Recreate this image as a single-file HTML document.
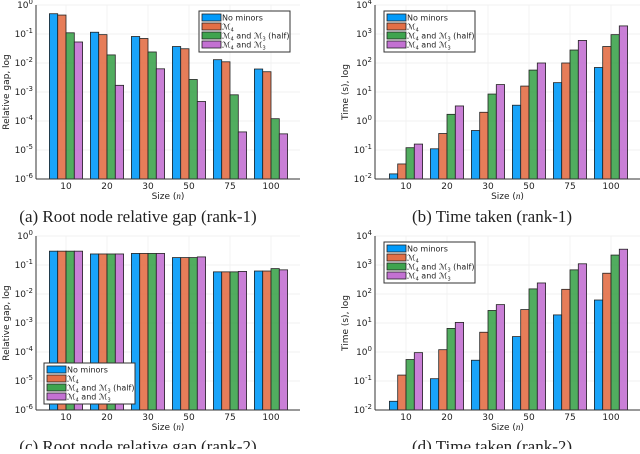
<!DOCTYPE html>
<html><head><meta charset="utf-8"><style>
body{margin:0;background:#fff;width:640px;height:449px;overflow:hidden}
svg text{font-family:"DejaVu Sans","Liberation Sans",sans-serif}
.cap{font-family:"Liberation Serif",serif;font-size:17px}
</style></head><body>
<svg id="s" width="640" height="449"></svg>
<script>
const categories=["10","20","30","50","75","100"];
const seriesNames=["No minors","M4","M4 and M3 (half)","M4 and M3"];
const aNone=[0.5,0.115,0.082,0.037,0.013,0.0062];
const aM4=[0.45,0.095,0.07,0.031,0.011,0.005];
const aHalf=[0.11,0.019,0.024,0.0027,0.0008,0.00012];
const aFull=[0.053,0.0017,0.0063,0.00047,0.000042,0.000036];
const bNone=[0.015,0.11,0.47,3.5,21,70];
const bM4=[0.033,0.37,2,16,100,370];
const bHalf=[0.12,1.7,8.5,57,280,950];
const bFull=[0.16,3.3,18,100,600,1900];
const cNone=[0.3,0.24,0.25,0.18,0.058,0.062];
const cM4=[0.3,0.24,0.25,0.18,0.058,0.062];
const cHalf=[0.3,0.24,0.25,0.18,0.058,0.075];
const cFull=[0.3,0.24,0.25,0.19,0.06,0.068];
const dNone=[0.02,0.12,0.52,3.4,19,62];
const dM4=[0.16,1.2,4.8,29,145,520];
const dHalf=[0.55,6.5,27,150,680,2200];
const dFull=[0.95,10.5,43,240,1100,3500];
const gapTicks=[0,-1,-2,-3,-4,-5,-6];
const timeTicks=[4,3,2,1,0,-1,-2];
const colors=["#009AFA","#E36F47","#3EA44E","#C371D2"];
const NS="http://www.w3.org/2000/svg";
const svg=document.getElementById('s');
function el(t,a,p){const e=document.createElementNS(NS,t);for(const k in a)e.setAttribute(k,a[k]);(p||svg).appendChild(e);return e;}
function legend(g,x,y){
  const r=el('rect',{x:x,y:y,width:91,height:41,fill:'#fff',stroke:'#333','stroke-width':1},g);
  
  const labels=['No minors','ℳ<tspan font-size="5" dy="2">4</tspan>','<tspan>ℳ</tspan><tspan font-size="5" dy="2">4</tspan><tspan dy="-2"> and ℳ</tspan><tspan font-size="5" dy="2">3</tspan><tspan dy="-2"> (half)</tspan>','<tspan>ℳ</tspan><tspan font-size="5" dy="2">4</tspan><tspan dy="-2"> and ℳ</tspan><tspan font-size="5" dy="2">3</tspan>'];
  for(let i=0;i<4;i++){
    const e=el('g',{},g);
    
    el('rect',{x:x+3,y:y+3+i*9,width:19,height:7,fill:colors[i],stroke:'#222','stroke-width':0.8},e);
    const t=el('text',{x:x+23,y:y+9.5+i*9,'font-size':8,fill:'#222'},e);t.innerHTML=labels[i];
  }
}
function chart(o){
  const g=el('g',{});
  
  const lmin=o.ticks[o.ticks.length-1],lmax=o.ticks[0];
  const y=v=>o.bottom-(Math.log10(v)-lmin)/(lmax-lmin)*(o.bottom-o.top);
  const xc=i=>o.x0+o.gap*i;
  o.ticks.forEach(t=>{
    el('line',{x1:o.left,x2:o.right,y1:y(Math.pow(10,t)),y2:y(Math.pow(10,t)),stroke:'#eee','stroke-width':0.7},g);
    const tx=el('text',{x:o.left-3,y:y(Math.pow(10,t))+3,'font-size':9,'text-anchor':'end',fill:'#222'},g);
    
    tx.innerHTML='10<tspan font-size="7" dy="-4">'+t+'</tspan>';
  });
  categories.forEach((c,i)=>{
    el('line',{x1:xc(i),x2:xc(i),y1:o.top,y2:o.bottom,stroke:'#eee','stroke-width':0.7},g);
    const tx=el('text',{x:xc(i),y:o.bottom+10,'font-size':9,'text-anchor':'middle',fill:'#222'},g);
    
    tx.textContent=c;
  });
  const bw=8.3;
  o.series.forEach((s,j)=>{
    s.forEach((v,i)=>{
      const bx=xc(i)-2*bw+j*bw, by=y(v);
      const r=el('rect',{x:bx,y:by,width:bw,height:o.bottom-by,fill:colors[j],stroke:'#222','stroke-width':0.8,'fill-opacity':0.9},g);
      
      
    });
  });
  el('line',{x1:o.left,x2:o.left,y1:o.top,y2:o.bottom,stroke:'#333','stroke-width':1},g);
  el('line',{x1:o.left,x2:o.right,y1:o.bottom,y2:o.bottom,stroke:'#333','stroke-width':1},g);
  const xl=el('text',{x:(o.left+o.right)/2,y:o.bottom+20,'font-size':9,'text-anchor':'middle',fill:'#222'},g);
  
  xl.innerHTML='Size (<tspan font-style="italic" font-family="Liberation Serif">n</tspan>)';
  const yx=o.left-27,yy=(o.top+o.bottom)/2;
  const yl=el('text',{x:yx,y:yy,'font-size':9,'text-anchor':'middle',fill:'#222',transform:`rotate(-90 ${yx} ${yy})`},g);
  
  yl.textContent=o.ytitle;
  legend(g,o.lx,o.ly);
  const cp=el('text',{x:o.capx,y:o.capy,'text-anchor':'middle',class:'cap',fill:'#222'},g);
  
  cp.textContent=o.cap;
}
chart({name:'chart-a',left:36,right:300,top:5,bottom:179,x0:66,gap:41,ticks:gapTicks,series:[aNone,aM4,aHalf,aFull],ytitle:'Relative gap, log',lx:199,ly:11,capx:138,capy:222,cap:'(a) Root node relative gap (rank-1)'});
chart({name:'chart-b',left:375,right:640,top:5,bottom:179,x0:406,gap:41,ticks:timeTicks,series:[bNone,bM4,bHalf,bFull],ytitle:'Time (s), log',lx:384,ly:11,capx:492,capy:222,cap:'(b) Time taken (rank-1)'});
chart({name:'chart-c',left:36,right:300,top:236,bottom:410,x0:66,gap:41,ticks:gapTicks,series:[cNone,cM4,cHalf,cFull],ytitle:'Relative gap, log',lx:44,ly:363,capx:138,capy:452,cap:'(c) Root node relative gap (rank-2)'});
chart({name:'chart-d',left:375,right:640,top:236,bottom:410,x0:406,gap:41,ticks:timeTicks,series:[dNone,dM4,dHalf,dFull],ytitle:'Time (s), log',lx:384,ly:242,capx:492,capy:452,cap:'(d) Time taken (rank-2)'});
</script>
</body></html>
